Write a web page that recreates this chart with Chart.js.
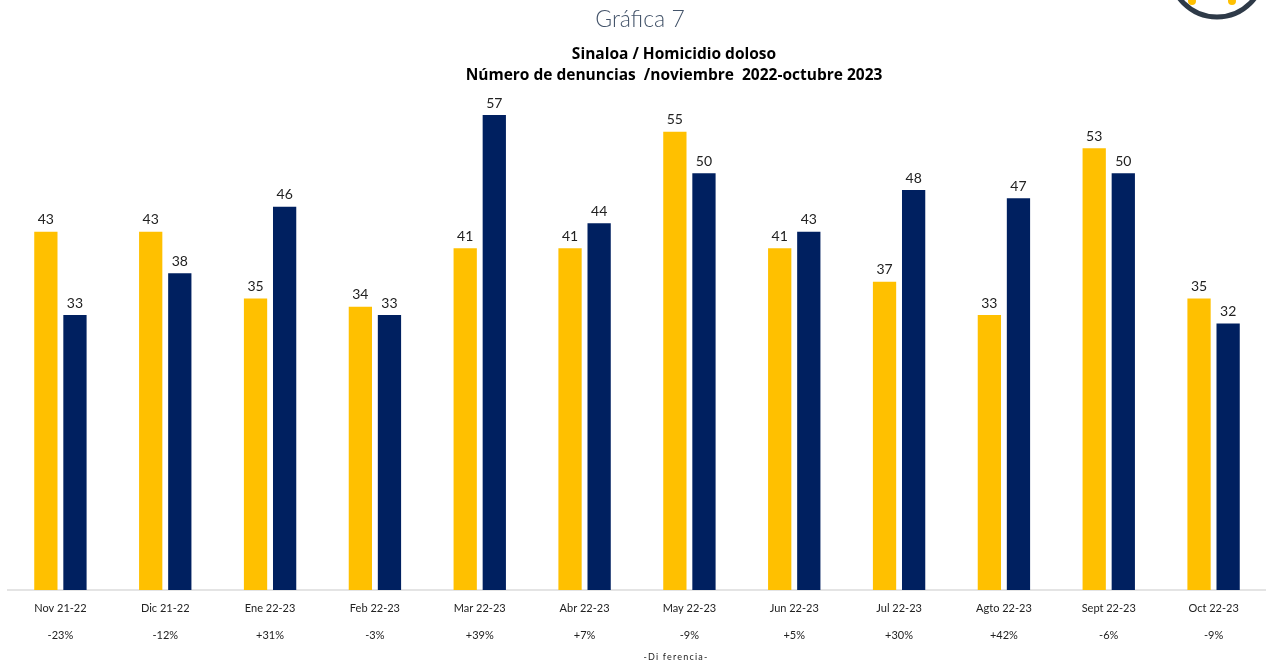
<!DOCTYPE html>
<html>
<head>
<meta charset="utf-8">
<script src="https://cdn.jsdelivr.net/npm/chart.js@4"></script>
<style>
  body { margin: 0; background: #fff; font-family: Lato, sans-serif; }
  #wrap { position: relative; width: 1266px; height: 667px; overflow: hidden; }
  #grafica { position: absolute; top: 4px; left: 0; width: 1280px; text-align: center; font-size: 23px; font-weight: 300; color: #44546A; }
  #titulo { position: absolute; top: 43px; left: 8px; width: 1332px; text-align: center; font-family: 'Open Sans', sans-serif; font-size: 15.5px; font-weight: bold; color: #000; line-height: 21px; }
  #diferencia { position: absolute; top: 651px; left: 576px; width: 200px; text-align: center; font-size: 9px; letter-spacing: 1.2px; color: #222; }
  canvas { position: absolute; top: 0; left: 0; }
</style>
</head>
<body>
<div id="wrap">
  <canvas id="chart" width="1266" height="667"></canvas>
  <div id="grafica">Gráfica 7</div>
  <div id="titulo">Sinaloa / Homicidio doloso<br>Número de denuncias &nbsp;/noviembre &nbsp;2022-octubre 2023</div>
  <div id="diferencia">-Di ferencia-</div>
</div>
<script>
// datos de la gráfica
const categorias = ['Nov 21-22', 'Dic 21-22', 'Ene 22-23', 'Feb 22-23', 'Mar 22-23', 'Abr 22-23',
                    'May 22-23', 'Jun 22-23', 'Jul 22-23', 'Agto 22-23', 'Sept 22-23', 'Oct 22-23'];
const anioAnterior = [43, 43, 35, 34, 41, 41, 55, 41, 37, 33, 53, 35];
const anioActual = [33, 38, 46, 33, 57, 44, 50, 43, 48, 47, 50, 32];
const diferencias = ['-23%', '-12%', '+31%', '-3%', '+39%', '+7%', '-9%', '+5%', '+30%', '+42%', '-6%', '-9%'];

// etiquetas con valor encima de cada barra
const etiquetasValor = {
    id: 'etiquetasValor',
    afterDatasetsDraw(chart) {
        const ctx = chart.ctx;
        ctx.save();
        ctx.font = '14px Lato, sans-serif';
        ctx.fillStyle = '#222';
        ctx.textAlign = 'center';
        ctx.textBaseline = 'bottom';
        chart.data.datasets.forEach((ds, i) => {
            chart.getDatasetMeta(i).data.forEach((bar, j) => {
                ctx.fillText(ds.data[j], bar.x, bar.y - 5);
            });
        });
        ctx.restore();
    }
};

// logo parcial arriba a la derecha
const logo = {
    id: 'logo',
    afterDraw(chart) {
        const ctx = chart.ctx;
        ctx.save();
        ctx.beginPath();
        ctx.arc(1217, -30, 47, 0, Math.PI * 2);
        ctx.lineWidth = 5;
        ctx.strokeStyle = '#2E3A48';
        ctx.stroke();
        ctx.fillStyle = '#FFC000';
        ctx.beginPath();
        ctx.arc(1192, 1, 4, 0, Math.PI * 2);
        ctx.arc(1232, 1, 4, 0, Math.PI * 2);
        ctx.fill();
        ctx.restore();
    }
};

const ctx = document.getElementById('chart').getContext('2d');
new Chart(ctx, {
    type: 'bar',
    data: {
        labels: categorias.map((c, i) => [c, diferencias[i]]),
        datasets: [
            {
                label: '2021-2022',
                data: anioAnterior,
                backgroundColor: '#FFC000',
                categoryPercentage: 0.555,
                barPercentage: 0.8
            },
            {
                label: '2022-2023',
                data: anioActual,
                backgroundColor: '#002060',
                categoryPercentage: 0.555,
                barPercentage: 0.8
            }
        ]
    },
    options: {
        responsive: false,
        animation: false,
        layout: { padding: { left: 8, right: 0, top: 90, bottom: 21 } },
        plugins: {
            legend: { display: false },
            tooltip: { enabled: false }
        },
        scales: {
            y: {
                display: false,
                min: 0,
                max: 60
            },
            x: {
                grid: { display: false },
                border: { display: true, color: '#E4E4E4', width: 2 },
                ticks: {
                    color: '#222',
                    font: { family: 'Lato, sans-serif', size: 11, lineHeight: 2.45 },
                    padding: -3,
                    maxRotation: 0,
                    autoSkip: false
                }
            }
        }
    },
    plugins: [etiquetasValor, logo]
});
</script>
</body>
</html>
